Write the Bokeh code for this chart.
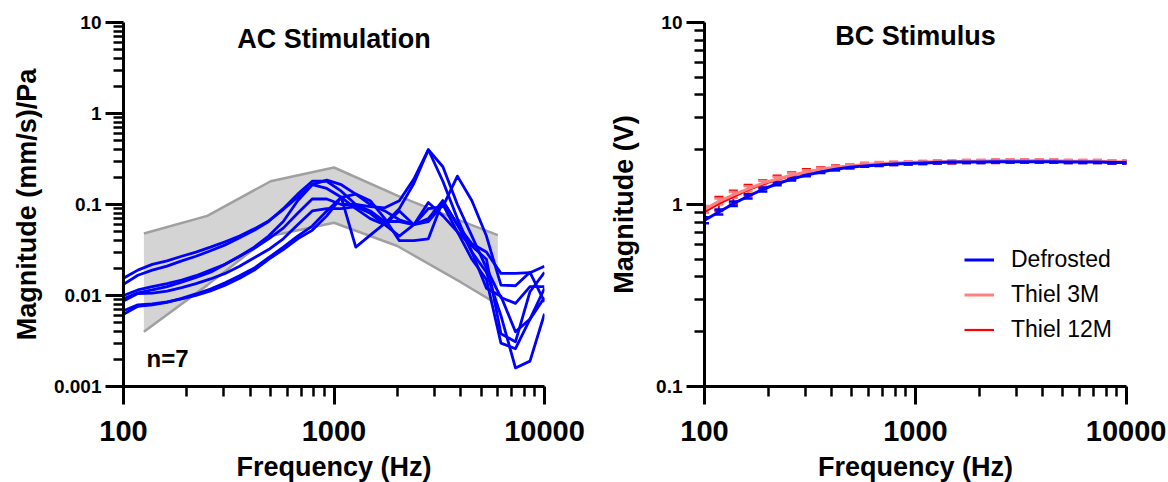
from bokeh.plotting import figure
from bokeh.layouts import row
from bokeh.models import (FixedTicker, CustomJSTickFormatter, Label, Legend,
                          LegendItem, Whisker, TeeHead, ColumnDataSource)
from bokeh.embed import file_html
from bokeh.resources import INLINE

FONT = "Liberation Sans"

# ---------------- data ----------------
freq = [100, 117, 137, 161, 189, 221, 259, 304, 356, 418, 489, 574, 672, 788, 924,
        1083, 1269, 1487, 1743, 2043, 2395, 2807, 3290, 3857, 4520, 5298, 6210,
        7279, 8532, 10000]

# AC stimulation: 7 specimens
ac_1 = [0.0155, 0.019, 0.022, 0.024, 0.027, 0.030, 0.034, 0.039, 0.045, 0.054, 0.066, 0.088,
        0.12, 0.165, 0.185, 0.165, 0.13, 0.10, 0.085, 0.068, 0.06, 0.07, 0.11, 0.06,
        0.037, 0.03, 0.0175, 0.0175, 0.0178, 0.021]
ac_2 = [0.0133, 0.0167, 0.019, 0.021, 0.024, 0.027, 0.031, 0.036, 0.043, 0.052, 0.065, 0.09,
        0.13, 0.18, 0.18, 0.14, 0.10, 0.095, 0.092, 0.11, 0.19, 0.40, 0.26, 0.10,
        0.045, 0.02, 0.0095, 0.0082, 0.0125, 0.0125]
ac_3 = [0.0100, 0.0115, 0.0125, 0.0135, 0.0148, 0.0165, 0.019, 0.022, 0.027, 0.033, 0.042,
        0.055, 0.08, 0.115, 0.115, 0.10, 0.10, 0.085, 0.065, 0.065, 0.06, 0.105, 0.075,
        0.05, 0.035, 0.025, 0.0038, 0.0031, 0.011, 0.018]
ac_4 = [0.0092, 0.0107, 0.0115, 0.0125, 0.014, 0.0158, 0.018, 0.022, 0.027, 0.034, 0.045,
        0.065, 0.11, 0.165, 0.15, 0.12, 0.09, 0.07, 0.06, 0.085, 0.06, 0.065, 0.10,
        0.05, 0.025, 0.015, 0.003, 0.0026, 0.0055, 0.012]
ac_5 = [0.0087, 0.0105, 0.0106, 0.0112, 0.0122, 0.0135, 0.0152, 0.0175, 0.021, 0.026, 0.032,
        0.042, 0.06, 0.085, 0.09, 0.09, 0.095, 0.08, 0.06, 0.045, 0.06, 0.09, 0.095,
        0.205, 0.11, 0.045, 0.013, 0.0128, 0.018, 0.0085]
ac_6 = [0.0068, 0.0079, 0.0081, 0.0085, 0.0092, 0.0100, 0.0112, 0.013, 0.0155, 0.019, 0.025,
        0.032, 0.042, 0.052, 0.075, 0.12, 0.13, 0.11, 0.07, 0.04, 0.04, 0.042, 0.11,
        0.06, 0.03, 0.012, 0.0098, 0.004, 0.0055, 0.0095]
ac_7 = [0.0062, 0.0076, 0.0079, 0.0084, 0.0093, 0.0104, 0.0118, 0.0138, 0.0165, 0.020, 0.026,
        0.034, 0.045, 0.058, 0.085, 0.12, 0.034, 0.046, 0.062, 0.09, 0.17, 0.40, 0.18,
        0.07, 0.03, 0.018, 0.006, 0.0016, 0.0019, 0.0063]
ac_curves = [ac_1, ac_2, ac_3, ac_4, ac_5, ac_6, ac_7]

# reference range (grey band)
band_freq = [125, 250, 500, 1000, 2000, 4000, 6000]
band_upper = [0.048, 0.075, 0.18, 0.255, 0.125, 0.066, 0.046]
band_lower = [0.004, 0.013, 0.045, 0.063, 0.035, 0.014, 0.008]

# BC stimulus
defrosted = [0.82, 0.91, 1.01, 1.11, 1.21, 1.30, 1.38, 1.45, 1.51, 1.56, 1.60, 1.63, 1.65,
             1.67, 1.68, 1.69, 1.70, 1.71, 1.71, 1.71, 1.72, 1.72, 1.72, 1.72, 1.72, 1.71,
             1.71, 1.71, 1.70, 1.70]
defrosted_sd = [0.03, 0.03, 0.03, 0.03, 0.03, 0.025, 0.025, 0.02, 0.02, 0.02, 0.02, 0.02,
                0.02, 0.02, 0.02, 0.02, 0.02, 0.02, 0.02, 0.02, 0.02, 0.02, 0.02, 0.02,
                0.02, 0.02, 0.02, 0.02, 0.02, 0.02]
thiel_3m = [0.94, 1.04, 1.13, 1.22, 1.31, 1.38, 1.45, 1.51, 1.56, 1.60, 1.63, 1.66, 1.68,
            1.69, 1.70, 1.71, 1.72, 1.72, 1.73, 1.73, 1.74, 1.74, 1.74, 1.74, 1.74, 1.73,
            1.73, 1.73, 1.72, 1.72]
thiel_3m_sd = [0.04, 0.04, 0.04, 0.04, 0.04, 0.035, 0.035, 0.03, 0.03, 0.03, 0.03, 0.03,
               0.03, 0.03, 0.03, 0.03, 0.03, 0.03, 0.03, 0.03, 0.03, 0.03, 0.03, 0.03,
               0.03, 0.03, 0.03, 0.03, 0.03, 0.03]
thiel_12m = [0.91, 1.01, 1.10, 1.20, 1.29, 1.37, 1.44, 1.50, 1.55, 1.59, 1.62, 1.65, 1.67,
             1.68, 1.69, 1.70, 1.71, 1.71, 1.72, 1.72, 1.72, 1.73, 1.73, 1.73, 1.73, 1.72,
             1.72, 1.72, 1.71, 1.71]
thiel_12m_sd = [0.06, 0.09, 0.09, 0.08, 0.07, 0.07, 0.06, 0.06, 0.05, 0.05, 0.04, 0.04,
                0.03, 0.03, 0.03, 0.03, 0.03, 0.03, 0.03, 0.03, 0.03, 0.03, 0.03, 0.03,
                0.03, 0.03, 0.03, 0.03, 0.03, 0.03]

x_major = [100, 1000, 10000]
ac_y_major = [0.001, 0.01, 0.1, 1, 10]
bc_y_major = [0.1, 1, 10]

BLUE = "#0000ff"
PINK = "#ff8080"
RED = "#ff0000"


def minor_ticks(majors):
    out = []
    for m in majors[:-1]:
        for k in range(2, 10):
            out.append(float(f"{m * k:.6g}"))
    return out


def style(p, ymajor, ylabel, ylabel_standoff):
    p.xaxis.ticker = FixedTicker(ticks=x_major, minor_ticks=minor_ticks(x_major))
    p.yaxis.ticker = FixedTicker(ticks=ymajor, minor_ticks=minor_ticks(ymajor))
    for ax in p.xaxis + p.yaxis:
        ax.formatter = CustomJSTickFormatter(code="return String(tick);")
        ax.axis_line_width = 3
        ax.axis_line_color = "black"
        ax.major_tick_line_width = 3
        ax.minor_tick_line_width = 2.5
        ax.major_tick_line_color = "black"
        ax.minor_tick_line_color = "black"
        ax.major_tick_out = 18
        ax.minor_tick_out = 10
        ax.major_tick_in = 0
        ax.minor_tick_in = 0
        ax.major_label_text_font = FONT
        ax.major_label_text_font_style = "bold"
        ax.major_label_text_color = "black"
        ax.axis_label_text_font = FONT
        ax.axis_label_text_font_style = "bold"
        ax.axis_label_text_font_size = "27px"
        ax.axis_label_text_color = "black"
    p.xaxis.major_label_text_font_size = "29px"
    p.xaxis.major_label_standoff = 16
    p.xaxis.axis_label_standoff = 8
    p.yaxis.major_label_text_font_size = "19px"
    p.yaxis.major_label_standoff = 4
    p.yaxis.axis_label_standoff = ylabel_standoff
    p.xaxis.axis_label = "Frequency (Hz)"
    p.yaxis.axis_label = ylabel
    p.xgrid.visible = False
    p.ygrid.visible = False
    p.outline_line_color = None
    p.background_fill_color = "white"
    p.border_fill_color = "white"


# ---------------- left: AC stimulation ----------------
p1 = figure(x_axis_type="log", y_axis_type="log", x_range=(100, 10000),
            y_range=(0.001, 10), frame_width=421, frame_height=364,
            min_border_left=123, min_border_right=45, min_border_top=22,
            min_border_bottom=96, output_backend="svg", toolbar_location=None)
style(p1, ac_y_major, "Magnitude (mm/s)/Pa", 9)

p1.varea(x=band_freq, y1=band_lower, y2=band_upper, fill_color="#d4d4d4")
p1.line(band_freq, band_upper, line_color="#a0a0a0", line_width=2.5)
p1.line(band_freq, band_lower, line_color="#a0a0a0", line_width=2.5)
for c in ac_curves:
    p1.line(freq, c, line_color=BLUE, line_width=2.8, line_join="round")

p1.add_layout(Label(x=1000, y=6.6, text="AC Stimulation", text_align="center",
                    text_baseline="alphabetic", text_font=FONT, text_color="black",
                    text_font_style="bold", text_font_size="27px"))
p1.add_layout(Label(x=128.6, y=0.00203, text="n=7", text_align="left",
                    text_baseline="alphabetic", text_font=FONT, text_color="black",
                    text_font_style="bold", text_font_size="24px"))

# ---------------- right: BC stimulus ----------------
p2 = figure(x_axis_type="log", y_axis_type="log", x_range=(100, 10000),
            y_range=(0.1, 10), frame_width=422, frame_height=364,
            min_border_left=115, min_border_right=40, min_border_top=22,
            min_border_bottom=96, output_backend="svg", toolbar_location=None)
style(p2, bc_y_major, "Magnitude (V)", 14)


def add_series(p, y, sd, color, width):
    src = ColumnDataSource(dict(x=freq, y=y,
                                upper=[a + b for a, b in zip(y, sd)],
                                lower=[a - b for a, b in zip(y, sd)]))
    p.add_layout(Whisker(base="x", upper="upper", lower="lower", source=src,
                         line_color=color, line_width=2,
                         upper_head=TeeHead(size=9, line_color=color, line_width=2.5),
                         lower_head=TeeHead(size=9, line_color=color, line_width=2.5)))
    return p.line("x", "y", source=src, line_color=color, line_width=width)


r_red = add_series(p2, thiel_12m, thiel_12m_sd, RED, 2.2)
r_pink = add_series(p2, thiel_3m, thiel_3m_sd, PINK, 3)
r_blue = add_series(p2, defrosted, defrosted_sd, BLUE, 3)

legend = Legend(items=[LegendItem(label="Defrosted", renderers=[r_blue]),
                       LegendItem(label="Thiel 3M", renderers=[r_pink]),
                       LegendItem(label="Thiel 12M", renderers=[r_red])],
                location=(260, 43), glyph_width=30, glyph_height=25,
                label_height=25, label_standoff=17, spacing=8, padding=0,
                margin=0, border_line_color=None, background_fill_alpha=0,
                label_text_font=FONT, label_text_font_size="23px",
                label_text_color="black")
p2.add_layout(legend)

p2.add_layout(Label(x=1000, y=8.48, text="BC Stimulus", text_align="center",
                    text_baseline="alphabetic", text_font=FONT, text_color="black",
                    text_font_style="bold", text_font_size="27px"))

layout = row(p1, p2)
open("out.html", "w").write(file_html(layout, INLINE))
